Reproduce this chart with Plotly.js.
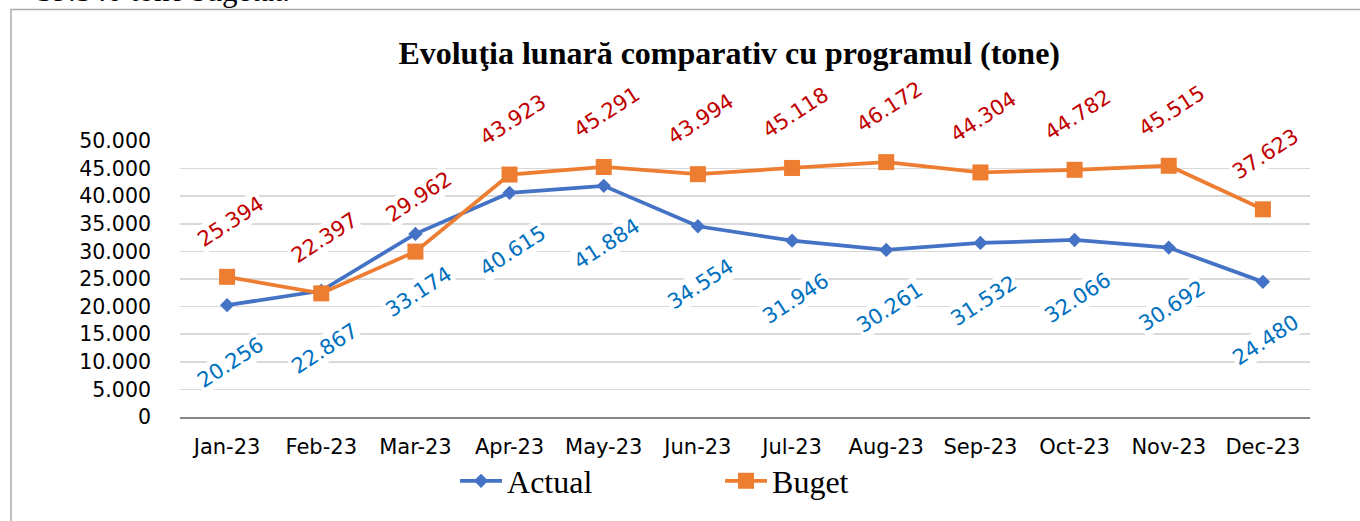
<!DOCTYPE html>
<html>
<head>
<meta charset="utf-8">
<script src="https://cdn.plot.ly/plotly-3.0.1.min.js"></script>
<style>
  html, body { margin: 0; padding: 0; background: #fff; }
  #chart { width: 1360px; height: 521px; }
</style>
</head>
<body>
<div id="chart"></div>
<script>
// Date lunare (tone)
const months = ["Jan-23", "Feb-23", "Mar-23", "Apr-23", "May-23", "Jun-23",
                "Jul-23", "Aug-23", "Sep-23", "Oct-23", "Nov-23", "Dec-23"];
const actual = [20256, 22867, 33174, 40615, 41884, 34554, 31946, 30261, 31532, 32066, 30692, 24480];
const buget = [25394, 22397, 29962, 43923, 45291, 43994, 45118, 46172, 44304, 44782, 45515, 37623];
const yTicks = [0, 5000, 10000, 15000, 20000, 25000, 30000, 35000, 40000, 45000, 50000];

// format 20256 -> "20.256"
function fmt(v) {
    return v < 1000 ? String(v) : (v / 1000).toFixed(3);
}

const actualTrace = {
    x: months,
    y: actual,
    type: "scatter",
    mode: "lines+markers",
    name: "Actual",
    line: { color: "#4472C4", width: 3.75 },
    marker: { symbol: "diamond", size: 11, color: "#4472C4" },
};

const bugetTrace = {
    x: months,
    y: buget,
    type: "scatter",
    mode: "lines+markers",
    name: "Buget",
    line: { color: "#ED7D31", width: 3.75 },
    marker: { symbol: "square", size: 16, color: "#ED7D31" },
};

// etichete de date, rotite
const labels = [];
months.forEach((m, i) => {
    labels.push({
        x: m, y: buget[i], xref: "x", yref: "y",
        text: fmt(buget[i]), showarrow: false, textangle: -33,
        xshift: 3, yshift: 55, bgcolor: "#ffffff",
        font: { family: "DejaVu Sans", size: 21, color: "#C00000" },
    });
    labels.push({
        x: m, y: actual[i], xref: "x", yref: "y",
        text: fmt(actual[i]), showarrow: false, textangle: -33,
        xshift: 3, yshift: -58, bgcolor: "#ffffff",
        font: { family: "DejaVu Sans", size: 21, color: "#0070C0" },
    });
});

// text taiat de deasupra graficului
labels.push({
    x: 35 / 1130 - 180 / 1130, y: 1.4746, xref: "paper", yref: "paper",
    xanchor: "left", yanchor: "bottom",
    text: "39.540 tone bugetat.", showarrow: false,
    font: { family: "Liberation Serif", size: 31, color: "#000" },
});

const layout = {
    width: 1360,
    height: 521,
    separators: ",.",
    title: {
        text: "<b>Evoluţia lunară comparativ cu programul (tone)</b>",
        font: { family: "Liberation Serif", size: 32, color: "#000" },
        xref: "paper", x: 0.486, xanchor: "center",
        yref: "container", y: 0.898, yanchor: "middle",
    },
    xaxis: {
        type: "category",
        range: [-0.5, 11.5],
        showgrid: false,
        showline: true,
        linecolor: "#868686",
        linewidth: 1.5,
        ticks: "",
        ticklabelstandoff: 10,
        tickfont: { family: "DejaVu Sans", size: 21, color: "#000" },
        fixedrange: true,
    },
    yaxis: {
        range: [0, 50000],
        tickvals: yTicks,
        ticktext: yTicks.map(fmt),
        showgrid: true,
        gridcolor: "#D9D9D9",
        gridwidth: 1.5,
        zeroline: false,
        showline: false,
        ticks: "",
        ticklabelstandoff: 28,
        tickfont: { family: "DejaVu Sans", size: 20.5, color: "#000" },
        fixedrange: true,
    },
    legend: {
        orientation: "h",
        x: 0.2434, xanchor: "left",
        y: -0.232, yanchor: "middle",
        itemwidth: 42,
        entrywidth: 208,
        font: { family: "Liberation Serif", size: 32, color: "#000" },
        bgcolor: "rgba(0,0,0,0)",
    },
    annotations: labels,
    shapes: [{
        type: "rect", xref: "paper", yref: "paper",
        x0: -0.1496, x1: 1.06, y0: -0.5, y1: 1.4764,
        line: { color: "#ABABAB", width: 1.5 },
        layer: "below",
    }],
    showlegend: true,
    plot_bgcolor: "#ffffff",
    paper_bgcolor: "#ffffff",
    margin: { l: 180, r: 50, t: 141, b: 104 },
};

Plotly.newPlot("chart", [actualTrace, bugetTrace], layout, { staticPlot: true, displayModeBar: false });
</script>
</body>
</html>
